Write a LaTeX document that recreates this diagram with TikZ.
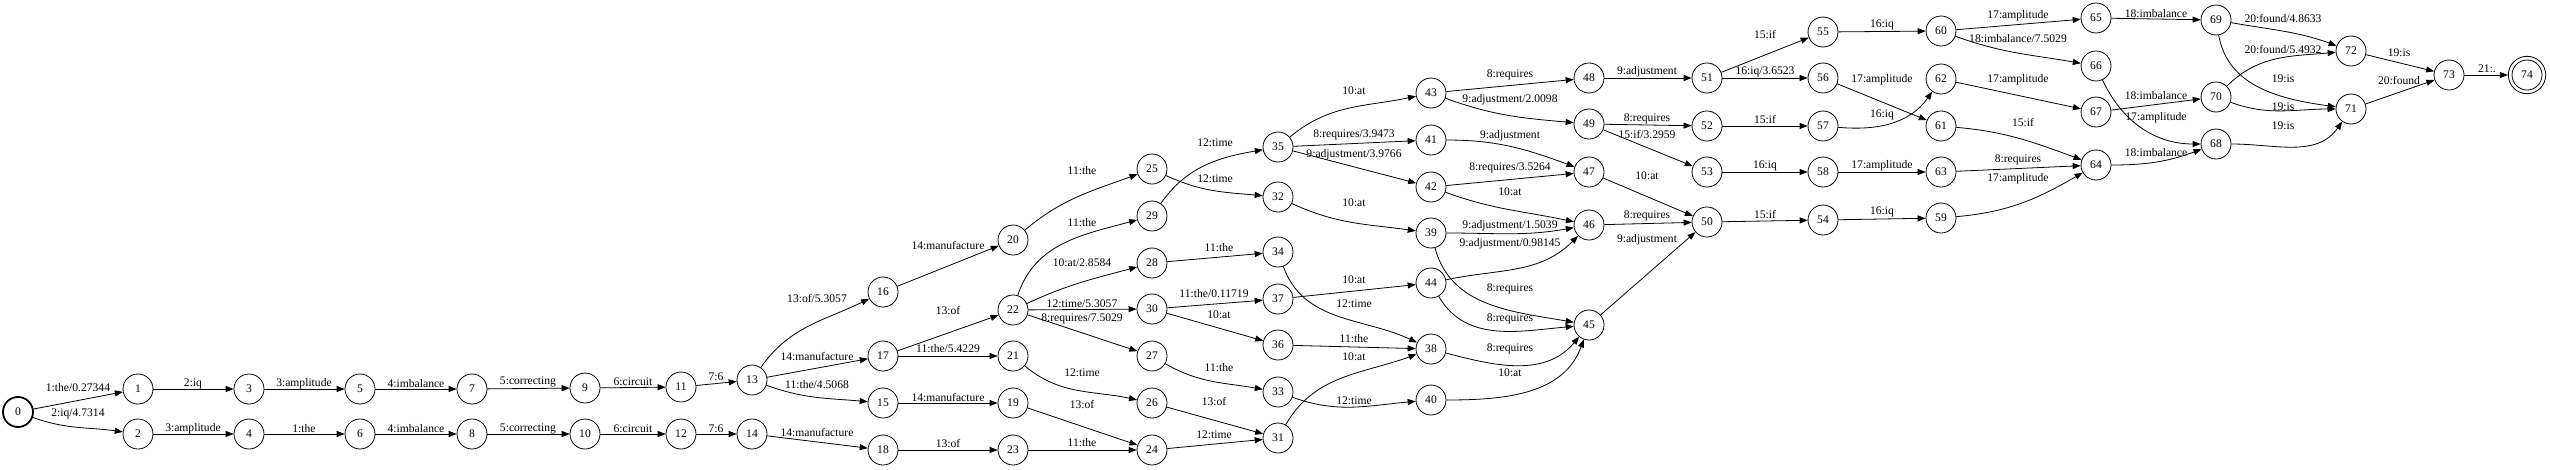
\documentclass[tikz,border=0pt]{standalone}
\usepackage{fontspec}
\setmainfont{Liberation Serif}
\usetikzlibrary{arrows.meta}
\newcommand\lbfont{\fontsize{11.6}{13}\selectfont}
\newcommand\edg[5]{\draw[e] (#1) #2 (#3) node[lbl,at={(#4)}] {#5};}
\tikzset{
  st/.style={circle, draw, line width=0.8pt, minimum size=30pt, inner sep=0pt, font=\lbfont},
  e/.style={line width=0.8pt, -{Triangle[length=8pt,width=6pt]}},
  lbl/.style={inner sep=0pt, font=\lbfont}
}
\begin{document}
\begin{tikzpicture}[x=1pt,y=1pt]
\useasboundingbox (0,0) rectangle (2550,-469);
% nodes
\node[st, line width=1.8pt] (n0) at (18,-412) {0};
\node[st] (n1) at (138,-389) {1};
\node[st] (n2) at (138,-434) {2};
\node[st] (n3) at (249,-389) {3};
\node[st] (n4) at (249,-434) {4};
\node[st] (n5) at (360,-389) {5};
\node[st] (n6) at (360,-434) {6};
\node[st] (n7) at (472,-389) {7};
\node[st] (n8) at (472,-434) {8};
\node[st] (n9) at (585,-388) {9};
\node[st] (n10) at (585,-434) {10};
\node[st] (n11) at (681,-387) {11};
\node[st] (n12) at (681,-434) {12};
\node[st] (n13) at (752,-380) {13};
\node[st] (n14) at (752,-434) {14};
\node[st] (n15) at (883,-403) {15};
\node[st] (n16) at (883,-292) {16};
\node[st] (n17) at (883,-356) {17};
\node[st] (n18) at (883,-450) {18};
\node[st] (n19) at (1013,-403) {19};
\node[st] (n20) at (1013,-240) {20};
\node[st] (n21) at (1013,-356) {21};
\node[st] (n22) at (1013,-310) {22};
\node[st] (n23) at (1013,-450) {23};
\node[st] (n24) at (1152,-450) {24};
\node[st] (n25) at (1152,-169) {25};
\node[st] (n26) at (1152,-403) {26};
\node[st] (n27) at (1152,-356) {27};
\node[st] (n28) at (1152,-263) {28};
\node[st] (n29) at (1152,-216) {29};
\node[st] (n30) at (1152,-309) {30};
\node[st] (n31) at (1278,-438) {31};
\node[st] (n32) at (1278,-197) {32};
\node[st] (n33) at (1278,-392) {33};
\node[st] (n34) at (1278,-252) {34};
\node[st] (n35) at (1278,-147) {35};
\node[st] (n36) at (1278,-345) {36};
\node[st] (n37) at (1278,-299) {37};
\node[st] (n38) at (1431,-349) {38};
\node[st] (n39) at (1431,-233) {39};
\node[st] (n40) at (1431,-400) {40};
\node[st] (n41) at (1431,-140) {41};
\node[st] (n42) at (1431,-187) {42};
\node[st] (n43) at (1431,-93) {43};
\node[st] (n44) at (1431,-283) {44};
\node[st] (n45) at (1589,-325) {45};
\node[st] (n46) at (1589,-225) {46};
\node[st] (n47) at (1589,-172) {47};
\node[st] (n48) at (1589,-78) {48};
\node[st] (n49) at (1589,-124) {49};
\node[st] (n50) at (1707,-222) {50};
\node[st] (n51) at (1707,-78) {51};
\node[st] (n52) at (1707,-126) {52};
\node[st] (n53) at (1707,-172) {53};
\node[st] (n54) at (1823,-220) {54};
\node[st] (n55) at (1823,-32) {55};
\node[st] (n56) at (1823,-78) {56};
\node[st] (n57) at (1823,-126) {57};
\node[st] (n58) at (1823,-172) {58};
\node[st] (n59) at (1941,-218) {59};
\node[st] (n60) at (1941,-31) {60};
\node[st] (n61) at (1941,-126) {61};
\node[st] (n62) at (1941,-79) {62};
\node[st] (n63) at (1941,-172) {63};
\node[st] (n64) at (2096,-165) {64};
\node[st] (n65) at (2096,-18) {65};
\node[st] (n66) at (2096,-66) {66};
\node[st] (n67) at (2096,-112) {67};
\node[st] (n68) at (2216,-144) {68};
\node[st] (n69) at (2216,-20) {69};
\node[st] (n70) at (2216,-97) {70};
\node[st] (n71) at (2351,-109) {71};
\node[st] (n72) at (2351,-51) {72};
\node[st] (n73) at (2449,-75) {73};
\node[st, minimum size=37.4pt] (n74) at (2527,-75) {74};
\draw[line width=0.8pt] (n74.center) circle (15pt);
% edges
\edg{n0}{--}{n1}{78,-388}{1:the/0.27344}
\edg{n0}{to[out=-20,in=172]}{n2}{78,-414}{2:iq/4.7314}
\edg{n1}{--}{n3}{193,-384}{2:iq}
\edg{n3}{--}{n5}{304,-384}{3:amplitude}
\edg{n5}{--}{n7}{416,-384}{4:imbalance}
\edg{n2}{--}{n4}{193,-429}{3:amplitude}
\edg{n4}{--}{n6}{304,-429}{1:the}
\edg{n6}{--}{n8}{416,-429}{4:imbalance}
\edg{n7}{--}{n9}{528,-382}{5:correcting}
\edg{n8}{--}{n10}{528,-429}{5:correcting}
\edg{n9}{--}{n11}{633,-382}{6:circuit}
\edg{n10}{--}{n12}{633,-429}{6:circuit}
\edg{n11}{--}{n13}{716,-377}{7:6}
\edg{n12}{--}{n14}{716,-429}{7:6}
\edg{n13}{to[out=55,in=206]}{n16}{817,-298}{13:of/5.3057}
\edg{n13}{--}{n17}{817,-356}{14:manufacture}
\edg{n13}{to[out=-20,in=175]}{n15}{817,-385}{11:the/4.5068}
\edg{n14}{--}{n18}{817,-432}{14:manufacture}
\edg{n16}{--}{n20}{948,-245}{14:manufacture}
\edg{n17}{--}{n22}{948,-310}{13:of}
\edg{n17}{--}{n21}{948,-349}{11:the/5.4229}
\edg{n15}{--}{n19}{948,-397}{14:manufacture}
\edg{n18}{--}{n23}{948,-443}{13:of}
\edg{n20}{to[out=40,in=200]}{n25}{1082,-171}{11:the}
\edg{n22}{to[out=72,in=195]}{n29}{1082,-223}{11:the}
\edg{n22}{to[out=25,in=195]}{n28}{1082,-263}{10:at/2.8584}
\edg{n22}{--}{n30}{1082,-304}{12:time/5.3057}
\edg{n22}{--}{n27}{1082,-319}{8:requires/7.5029}
\edg{n21}{to[out=-40,in=168]}{n26}{1082,-373}{12:time}
\edg{n19}{--}{n24}{1082,-404}{13:of}
\edg{n23}{--}{n24}{1082,-443}{11:the}
\edg{n25}{to[out=-25,in=175]}{n32}{1215,-179}{12:time}
\edg{n29}{to[out=55,in=190]}{n35}{1215,-143}{12:time}
\edg{n28}{--}{n34}{1219,-248}{11:the}
\edg{n30}{--}{n37}{1214,-294}{11:the/0.11719}
\edg{n30}{--}{n36}{1219,-315}{10:at}
\edg{n27}{to[out=-30,in=170]}{n33}{1219,-368}{11:the}
\edg{n26}{--}{n31}{1214,-401}{13:of}
\edg{n24}{--}{n31}{1214,-435}{12:time}
\edg{n35}{to[out=40,in=192]}{n43}{1354,-91}{10:at}
\edg{n35}{--}{n41}{1354,-135}{8:requires/3.9473}
\edg{n35}{--}{n42}{1354,-155}{9:adjustment/3.9766}
\edg{n32}{to[out=-25,in=172]}{n39}{1354,-203}{10:at}
\edg{n37}{--}{n44}{1354,-280}{10:at}
\edg{n34}{to[out=-70,in=155]}{n38}{1354,-304}{12:time}
\edg{n36}{--}{n38}{1354,-339}{11:the}
\edg{n31}{to[out=60,in=200]}{n38}{1354,-357}{10:at}
\edg{n33}{to[out=-20,in=185]}{n40}{1354,-401}{12:time}
\edg{n43}{--}{n48}{1510,-75}{8:requires}
\edg{n43}{to[out=-20,in=175]}{n49}{1510,-100}{9:adjustment/2.0098}
\edg{n41}{to[out=0,in=160]}{n47}{1510,-136}{9:adjustment}
\edg{n42}{--}{n47}{1510,-168}{8:requires/3.5264}
\edg{n42}{to[out=-20,in=168]}{n46}{1510,-192}{10:at}
\edg{n39}{to[out=0,in=190]}{n46}{1510,-226}{9:adjustment/1.5039}
\edg{n44}{to[out=12,in=225]}{n46}{1510,-244}{9:adjustment/0.98145}
\edg{n39}{to[out=-75,in=170]}{n45}{1510,-289}{8:requires}
\edg{n44}{to[out=-60,in=185]}{n45}{1510,-319}{8:requires}
\edg{n38}{to[out=-15,in=230]}{n45}{1510,-349}{8:requires}
\edg{n40}{to[out=0,in=250]}{n45}{1510,-373}{10:at}
\edg{n48}{--}{n51}{1647,-72}{9:adjustment}
\edg{n49}{--}{n52}{1647,-119}{8:requires}
\edg{n49}{--}{n53}{1647,-134}{15:if/3.2959}
\edg{n47}{--}{n50}{1647,-176}{10:at}
\edg{n46}{--}{n50}{1647,-216}{8:requires}
\edg{n45}{--}{n50}{1647,-240}{9:adjustment}
\edg{n51}{--}{n55}{1765,-34}{15:if}
\edg{n51}{--}{n56}{1765,-72}{16:iq/3.6523}
\edg{n52}{--}{n57}{1765,-119}{15:if}
\edg{n53}{--}{n58}{1765,-166}{16:iq}
\edg{n50}{--}{n54}{1765,-214}{15:if}
\edg{n55}{--}{n60}{1882,-25}{16:iq}
\edg{n56}{--}{n61}{1882,-80}{17:amplitude}
\edg{n57}{to[out=-5,in=235]}{n62}{1882,-115}{16:iq}
\edg{n58}{--}{n63}{1882,-166}{17:amplitude}
\edg{n54}{--}{n59}{1882,-212}{16:iq}
\edg{n60}{--}{n65}{2018,-16}{17:amplitude}
\edg{n60}{to[out=-20,in=170]}{n66}{2018,-39}{18:imbalance/7.5029}
\edg{n62}{--}{n67}{2018,-80}{17:amplitude}
\edg{n61}{to[out=-5,in=160]}{n64}{2023,-122}{15:if}
\edg{n63}{--}{n64}{2018,-160}{8:requires}
\edg{n59}{to[out=5,in=210]}{n64}{2018,-179}{17:amplitude}
\edg{n65}{--}{n69}{2156,-14}{18:imbalance}
\edg{n66}{to[out=-65,in=180]}{n68}{2156,-118}{17:amplitude}
\edg{n67}{--}{n70}{2156,-96}{18:imbalance}
\edg{n64}{to[out=0,in=200]}{n68}{2156,-153}{18:imbalance}
\edg{n69}{to[out=-10,in=160]}{n72}{2283,-18}{20:found/4.8633}
\edg{n69}{to[out=-80,in=172]}{n71}{2283,-79}{19:is}
\edg{n70}{to[out=45,in=185]}{n72}{2283,-49}{20:found/5.4932}
\edg{n70}{to[out=-20,in=180]}{n71}{2283,-107}{19:is}
\edg{n68}{to[out=0,in=235]}{n71}{2283,-126}{19:is}
\edg{n72}{--}{n73}{2399,-53}{19:is}
\edg{n71}{--}{n73}{2399,-80}{20:found}
\edg{n73}{--}{n74}{2487,-69}{21:.}
\end{tikzpicture}
\end{document}
